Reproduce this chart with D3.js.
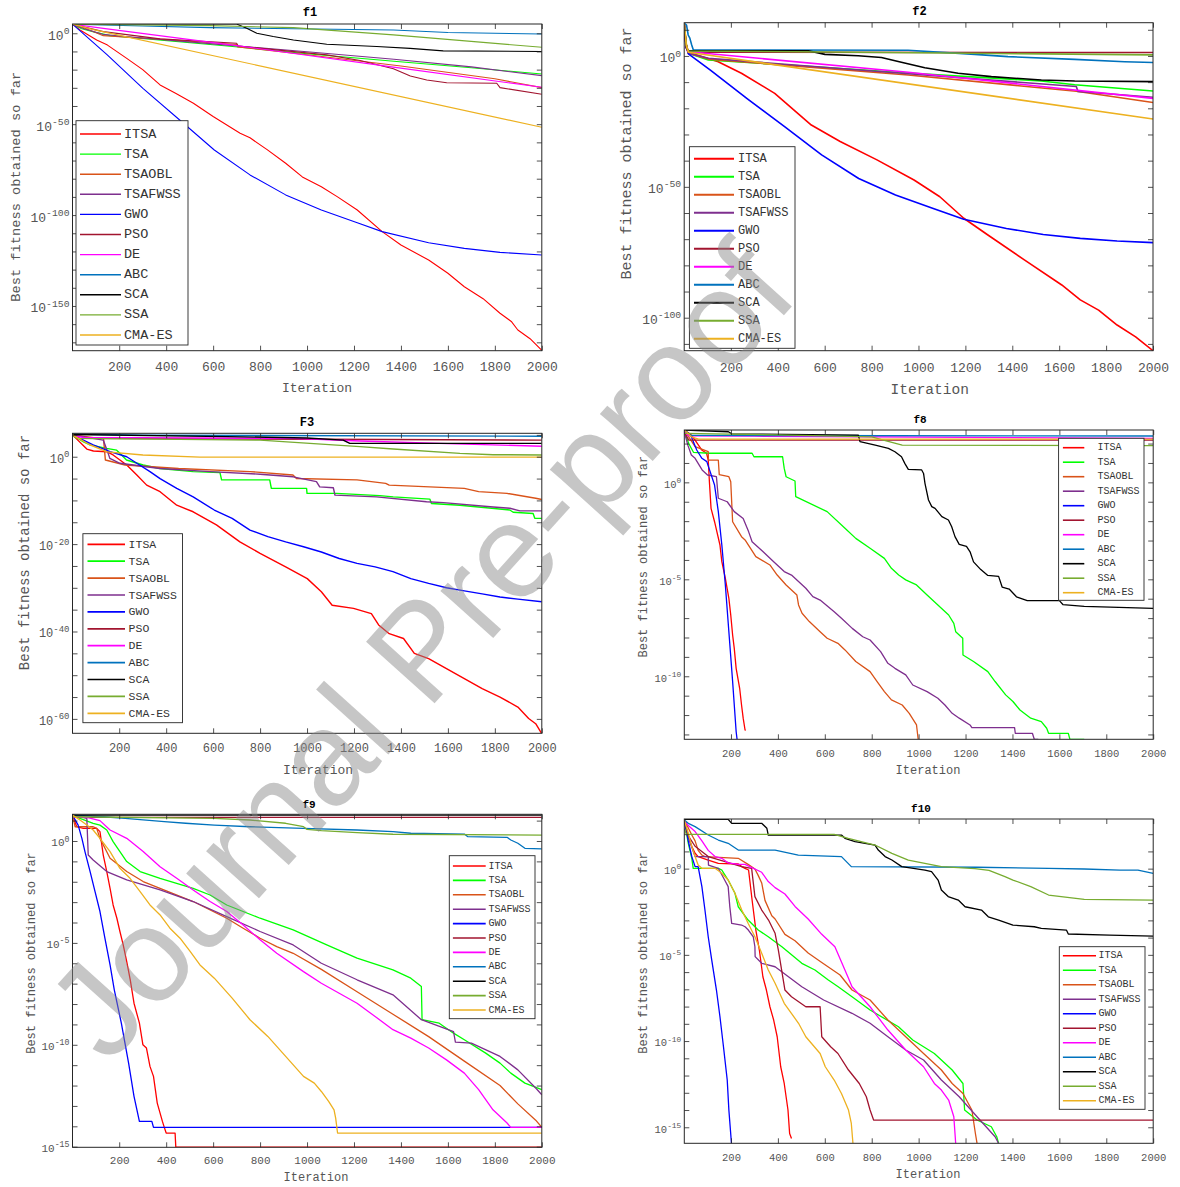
<!DOCTYPE html>
<html><head><meta charset="utf-8">
<script src="https://cdn.jsdelivr.net/npm/d3@7"></script>
<style>
body{margin:0;background:#fff;}
svg{display:block;}
text{font-family:"Liberation Mono","Courier New",monospace;}
</style></head><body>
<svg id="c" width="1180" height="1187"></svg>
<script>
// Series names and colours (legend order, drawing order)
const algorithms = ["ITSA","TSA","TSAOBL","TSAFWSS","GWO","PSO","DE","ABC","SCA","SSA","CMA-ES"];
const seriesColors = ["#ff0000","#00ff00","#d95319","#7e2f8e","#0000ff","#a2142f","#ff00ff","#0072bd","#000000","#77ac30","#edb120"];
const xTickValues = [200,400,600,800,1000,1200,1400,1600,1800,2000];

// Each curve: [iteration, log10(best fitness so far)]
const f1Curves = [
 /*ITSA*/ [[1,5],[33,1.8],[104,-3.7],[150,-6.5],[232,-13.8],[300,-20],[374,-28.4],[440,-33],[516,-38.5],[600,-45.8],[715,-55],[757,-57.5],[830,-64],[909,-71.5],[980,-79],[1061,-84.4],[1130,-90],[1214,-97.2],[1320,-109.1],[1400,-116.5],[1518,-124.7],[1600,-132],[1670,-139.4],[1750,-146],[1822,-154],[1870,-158.5],[1898,-163.2],[1950,-168],[2000,-174.4]],
 /*TSA*/ [[1,5],[40,2.5],[100,0.5],[161,-1.3],[660,-7],[1000,-11.3],[1370,-15.4],[1700,-19],[2000,-22.4]],
 /*TSAOBL*/ [[1,5],[60,2.5],[132,-1.3],[400,-3.5],[700,-6.2],[705,-7.5],[1000,-11.8],[1400,-18],[1800,-25],[2000,-29.9]],
 /*TSAFWSS*/ [[1,5],[50,2.5],[130,-0.5],[200,-1.5],[660,-6.5],[1000,-10.2],[1370,-14.3],[1700,-18.5],[2000,-23.3]],
 /*GWO*/ [[1,5],[149,-11.9],[301,-30.3],[460,-48],[605,-64.2],[757,-77.9],[909,-88.9],[1061,-97.2],[1214,-104.2],[1320,-109.1],[1518,-115.2],[1670,-118.3],[1822,-120.5],[2000,-122]],
 /*PSO*/ [[1,5],[132,0.9],[374,-3.1],[700,-5.5],[707,-7],[1084,-11.9],[1226,-15],[1368,-19.5],[1440,-23.5],[1510,-25.7],[1595,-27.2],[1808,-27.5],[1822,-29.9],[2000,-33.5]],
 /*DE*/ [[1,5],[132,2.7],[700,-6.8],[1368,-18.6],[2000,-29.7]],
 /*ABC*/ [[1,5],[300,4],[586,3.1],[1368,1.8],[1600,0.4],[2000,-0.4]],
 /*SCA*/ [[1,5.1],[700,5.1],[743,2.7],[786,0],[856,-1.8],[942,-3.7],[1084,-6],[1297,-7.3],[1439,-8.3],[1580,-9.7],[2000,-10]],
 /*SSA*/ [[1,5],[586,4.2],[942,3.1],[1368,-0.9],[2000,-7.7]],
 /*CMA-ES*/ [[1,5],[90,2],[2000,-51.7]]
];
const f2Curves = [
 /*ITSA*/ [[1,12.5],[8,5],[19,1.4],[146,-2.2],[245,-6.6],[387,-14.3],[543,-26.4],[666,-32.7],[823,-39.7],[981,-47.4],[1091,-53.8],[1193,-62],[1296,-68.4],[1453,-78],[1611,-87.5],[1690,-93.2],[1768,-97.1],[1847,-102.8],[1926,-107.3],[2000,-112.6]],
 /*TSA*/ [[1,12.5],[8,5],[19,1],[104,-1.5],[956,-6.5],[1524,-9.6],[1666,-11],[2000,-13.4]],
 /*TSAOBL*/ [[1,12.5],[8,5],[19,1],[104,-1.2],[956,-7.3],[1673,-13.5],[2000,-17.8]],
 /*TSAFWSS*/ [[1,12.5],[8,4],[19,1.0],[104,-0.9],[956,-6.8],[1673,-11.7],[1680,-13.6],[2000,-15.8]],
 /*GWO*/ [[1,12.5],[8,4],[19,0.8],[114,-5.5],[272,-16.5],[429,-27],[587,-37.8],[745,-46.8],[902,-53.1],[1060,-58.2],[1193,-62.4],[1375,-65.9],[1532,-68.2],[1690,-69.7],[1847,-70.7],[2000,-71.3]],
 /*PSO*/ [[1,12.5],[10,4],[18,1.4],[2000,1.3]],
 /*DE*/ [[1,12.5],[10,3],[19,1.6],[956,-6.2],[2000,-16.2]],
 /*ABC*/ [[1,12.5],[11,11.8],[18,8],[25,6.8],[33,4.2],[40,2.3],[956,2.2],[1240,0.6],[1382,-0.25],[1666,-1.3],[1879,-2.2],[2000,-2.5]],
 /*SCA*/ [[1,12],[10,3],[18,2],[530,2],[601,0.6],[743,0.1],[842,-0.6],[927,-2.4],[1027,-4.5],[1169,-6.6],[1311,-7.9],[1524,-9.2],[1666,-9.6],[2000,-9.8]],
 /*SSA*/ [[1,12],[12,3],[20,1.9],[1000,1.2],[2000,0.4]],
 /*CMA-ES*/ [[1,12.5],[10,4],[19,1.4],[2000,-24.1]]
];
const f3Curves = [
 /*ITSA*/ [[1,5],[62,1.75],[90,1.3],[147,1.15],[174,0.4],[232,-1.9],[275,-4.2],[317,-6.5],[374,-8],[445,-11.1],[515,-12.6],[614,-15.6],[714,-19.5],[800,-22.1],[909,-25.2],[1001,-27.9],[1061,-30.9],[1107,-34],[1198,-34.7],[1274,-35.9],[1305,-38.5],[1350,-40.5],[1411,-41.6],[1457,-45],[1518,-46.2],[1594,-48.5],[1670,-50.8],[1746,-53.1],[1822,-55],[1898,-57.3],[1944,-59.9],[1974,-61.1],[2000,-63.4]],
 /*TSA*/ [[1,5],[48,3.4],[76,2.7],[146,1.9],[189,1.5],[196,1.15],[231,-0.76],[302,-1.9],[373,-2.7],[515,-3.4],[629,-3.6],[636,-5.3],[841,-5.3],[848,-7.25],[998,-7.25],[1000,-8.4],[1126,-8.4],[1310,-8.9],[1367,-9.2],[1523,-9.7],[1530,-10.7],[1651,-11.1],[1864,-12.2],[1878,-12.7],[1963,-13],[1970,-14.1],[2000,-14.1]],
 /*TSAOBL*/ [[1,5],[100,4.3],[133,4.2],[141,-0.76],[225,-1.9],[453,-2.7],[757,-3.4],[940,-4.2],[955,-5],[1213,-5.3],[1335,-6.1],[1350,-6.5],[1670,-7.25],[1731,-8],[1852,-8.4],[1974,-9.5],[2000,-9.8]],
 /*TSAFWSS*/ [[1,5],[132,3.8],[153,0.76],[160,-0.38],[203,-1.5],[373,-2.7],[586,-3.4],[800,-4],[941,-4.6],[1040,-5.7],[1054,-6.9],[1112,-7.1],[1119,-8.8],[1296,-9.2],[1509,-10.3],[1581,-10.5],[1793,-11.5],[1864,-11.8],[1907,-12.4],[2000,-12.4]],
 /*GWO*/ [[1,5],[89,2.7],[161,1.15],[232,0],[275,-1.5],[331,-3.4],[374,-5],[445,-7.25],[515,-9.2],[605,-12.2],[681,-14.1],[757,-16.8],[833,-18.3],[909,-19.5],[985,-20.6],[1061,-21.8],[1137,-23.3],[1213,-24.4],[1290,-25.2],[1366,-26.3],[1442,-27.9],[1518,-29],[1594,-30],[1670,-30.7],[1746,-31.4],[1822,-32.1],[1898,-32.6],[2000,-33.2]],
 /*PSO*/ [[1,5],[30,4.2],[2000,3.8]],
 /*DE*/ [[1,4.8],[50,4.4],[941,4.2],[1225,3.6],[1600,3],[2000,2.4]],
 /*ABC*/ [[1,5.2],[300,4.9],[2000,4.7]],
 /*SCA*/ [[1,5.1],[657,4.6],[998,4.3],[1154,3.8],[1182,3.05],[2000,3.05]],
 /*SSA*/ [[1,4.8],[20,4.2],[800,3.8],[1012,3.05],[1225,2.3],[1367,1.75],[1651,0.76],[1793,0.46],[2000,0.4]],
 /*CMA-ES*/ [[1,5],[72,2.8],[149,1.1],[301,0.4],[544,-0.1],[2000,-0.1]]
];
const f8Curves = [
 /*ITSA*/ [[1,2.7],[30,2.45],[47,2.18],[75,1.67],[96,1.5],[103,1.15],[108,0.03],[115,-1.34],[130,-2.03],[153,-3.23],[161,-4.09],[176,-4.95],[191,-5.98],[199,-6.84],[207,-7.87],[214,-8.56],[222,-9.59],[237,-10.62],[245,-11.48],[252,-12.16],[260,-12.77],[263,-12.77]],
 /*TSA*/ [[1,2.6],[20,2.0],[40,1.55],[108,1.5],[290,1.5],[298,1.32],[420,1.32],[427,0.72],[435,0.29],[473,0.07],[476,-0.74],[610,-1.51],[686,-2.37],[732,-2.89],[793,-3.4],[854,-3.92],[884,-4.43],[915,-4.78],[945,-5.03],[991,-5.29],[1036,-5.81],[1082,-6.32],[1128,-6.84],[1150,-7.27],[1158,-7.7],[1188,-8.04],[1189,-8.9],[1234,-9.24],[1295,-9.76],[1326,-10.27],[1371,-10.96],[1402,-11.3],[1432,-11.74],[1478,-12.16],[1523,-12.34],[1546,-12.68],[1554,-12.94],[1638,-12.94],[1645,-13.25],[1706,-13.25]],
 /*TSAOBL*/ [[1,2.7],[47,1.84],[103,1.58],[104,1.15],[146,1.15],[150,0.4],[191,0.29],[199,0.03],[207,-2.03],[245,-2.8],[260,-2.97],[306,-3.83],[366,-4.26],[397,-4.78],[435,-5.29],[481,-5.81],[488,-6.32],[503,-6.75],[534,-7.18],[580,-7.7],[610,-8.04],[656,-8.3],[686,-8.64],[732,-9.24],[793,-9.76],[823,-10.27],[854,-10.79],[884,-11.22],[930,-11.48],[960,-11.91],[991,-12.51],[998,-13.25]],
 /*TSAFWSS*/ [[1,2.61],[16,1.92],[31,1.41],[47,1.24],[77,0.64],[100,0.38],[138,0.29],[146,-0.82],[184,-1.0],[214,-1.51],[252,-1.86],[275,-2.54],[290,-3.06],[336,-3.57],[382,-4.09],[427,-4.6],[458,-4.78],[519,-5.46],[549,-5.89],[580,-6.07],[640,-6.67],[671,-7.01],[717,-7.53],[762,-7.96],[793,-8.13],[838,-8.73],[869,-9.33],[899,-9.59],[945,-9.93],[975,-10.45],[1036,-10.79],[1082,-11.13],[1112,-11.48],[1143,-11.91],[1173,-12.16],[1219,-12.51],[1227,-12.65],[1409,-12.65],[1412,-12.94],[1485,-12.94],[1493,-13.25],[1510,-13.25]],
 /*GWO*/ [[1,2.7],[31,2.35],[54,1.67],[76,1.24],[97,1.07],[130,-0.14],[146,-1.51],[161,-3.23],[176,-5.29],[191,-7.7],[207,-10.27],[222,-12.85],[226,-13.25]],
 /*PSO*/ [[1,2.6],[20,2.18],[2000,2.18]],
 /*DE*/ [[1,2.6],[20,2.4],[300,2.38],[2000,2.27]],
 /*ABC*/ [[1,2.7],[30,2.42],[2000,2.39]],
 /*SCA*/ [[1,2.7],[189,2.61],[203,2.5],[743,2.44],[750,2.1],[815,1.92],[871,1.75],[899,1.58],[927,1.32],[941,0.98],[956,0.67],[1013,0.64],[1021,0.46],[1027,-0.05],[1042,-0.91],[1056,-1.25],[1070,-1.34],[1099,-1.77],[1127,-1.94],[1141,-2.29],[1155,-2.8],[1173,-3.2],[1204,-3.3],[1220,-3.6],[1234,-4.1],[1265,-4.5],[1295,-4.8],[1341,-4.85],[1356,-5.4],[1386,-5.5],[1417,-5.9],[1463,-6.1],[1600,-6.1],[1615,-6.3],[1706,-6.4],[2000,-6.5]],
 /*SSA*/ [[1,2.53],[400,2.45],[800,2.35],[850,2.18],[930,1.92],[2000,1.89]],
 /*CMA-ES*/ [[1,2.7],[31,2.35],[62,2.23],[2000,2.23]]
];
const f9Curves = [
 /*ITSA*/ [[1,1.27],[19,0.7],[47,0.62],[104,0.62],[118,0.46],[132,-0.69],[147,-1.5],[161,-2.32],[174,-3.14],[190,-3.79],[203,-4.44],[217,-5.1],[232,-5.92],[247,-6.81],[263,-7.96],[286,-8.94],[301,-10],[316,-10.16],[331,-11.06],[346,-11.55],[362,-12.86],[384,-13.76],[392,-14.05],[400,-14.33],[438,-14.33],[441,-15.02],[2000,-15.02]],
 /*TSA*/ [[1,1.27],[33,1.11],[89,0.87],[118,0.78],[147,0.54],[174,-0.03],[203,-0.52],[232,-1.01],[289,-1.5],[374,-1.83],[515,-2.32],[587,-2.65],[658,-3.14],[800,-3.79],[941,-4.36],[1084,-5.1],[1213,-5.75],[1366,-6.32],[1442,-6.73],[1487,-7.14],[1490,-8.77],[1563,-8.94],[1624,-9.43],[1670,-9.75],[1761,-10.41],[1822,-10.9],[1868,-11.39],[1928,-11.88],[2000,-12.2]],
 /*TSAOBL*/ [[1,1.27],[12,0.7],[89,0.7],[104,0.62],[118,0.13],[161,-0.85],[232,-1.5],[302,-1.99],[374,-2.32],[515,-2.97],[658,-3.79],[728,-4.28],[800,-4.77],[871,-5.18],[941,-5.51],[1061,-6.3],[1213,-7.4],[1366,-8.5],[1518,-9.6],[1670,-10.8],[1822,-12],[1898,-12.9],[1974,-13.7],[2000,-14.05]],
 /*TSAFWSS*/ [[1,1.27],[62,1.11],[68,-0.69],[89,-0.93],[147,-1.5],[232,-1.91],[374,-2.4],[515,-2.97],[658,-3.71],[800,-4.44],[941,-5.1],[1061,-6],[1213,-6.81],[1366,-7.55],[1487,-8.77],[1624,-9.35],[1632,-9.87],[1700,-9.92],[1822,-10.57],[1898,-11.23],[1974,-12.12],[2000,-12.45]],
 /*GWO*/ [[1,1.27],[25,0.78],[41,0.13],[54,-0.52],[76,-1.5],[97,-2.48],[118,-3.46],[139,-4.77],[161,-6.08],[179,-7.3],[209,-8.94],[240,-10.9],[263,-12.53],[286,-13.76],[339,-13.76],[346,-14.05],[2000,-14.05]],
 /*PSO*/ [[1,1.16],[2000,1.16]],
 /*DE*/ [[1,1.19],[62,1.16],[118,1.0],[161,0.54],[232,0.13],[302,-0.52],[374,-1.26],[445,-1.83],[515,-2.4],[587,-2.97],[658,-3.46],[728,-4.12],[800,-4.85],[871,-5.51],[985,-6.41],[1061,-6.98],[1137,-7.47],[1213,-7.96],[1290,-8.61],[1366,-9.26],[1442,-9.67],[1518,-10.16],[1594,-10.74],[1670,-11.39],[1731,-12.2],[1792,-13.19],[1852,-13.84],[1868,-14.05],[2000,-14.05]],
 /*ABC*/ [[1,1.27],[133,1.19],[225,1.11],[392,0.95],[483,0.87],[605,0.78],[757,0.7],[985,0.62],[1213,0.54],[1366,0.46],[1442,0.38],[1670,0.34],[1685,0.21],[1852,0.18],[1868,0.05],[1898,-0.11],[1928,-0.36],[2000,-0.39]],
 /*SCA*/ [[1,1.27],[2000,1.27]],
 /*SSA*/ [[1,1.19],[605,1.11],[757,1.03],[909,0.87],[985,0.7],[1000,0.57],[1061,0.51],[1213,0.41],[1366,0.33],[2000,0.29]],
 /*CMA-ES*/ [[1,1.27],[33,1.03],[62,0.78],[89,0.54],[118,0.13],[161,-0.52],[203,-1.34],[246,-1.83],[289,-2.48],[331,-3.14],[374,-3.63],[416,-4.28],[459,-4.77],[502,-5.42],[544,-6.08],[605,-6.73],[681,-7.71],[757,-8.77],[833,-9.59],[909,-10.57],[985,-11.55],[1031,-11.88],[1061,-12.29],[1092,-12.78],[1115,-13.19],[1122,-13.6],[1130,-14.33],[2000,-14.33]]
];
const f10Curves = [
 /*ITSA*/ [[1,2.82],[18,1.86],[33,1.28],[47,0.89],[60,0.7],[103,0.5],[146,0.31],[231,0.27],[246,0.12],[260,0.02],[275,-0.08],[290,-1.82],[306,-3.56],[321,-4.72],[336,-6.27],[351,-7.04],[366,-8.01],[382,-8.78],[397,-9.75],[412,-11.49],[427,-12.46],[443,-14],[450,-15.36],[458,-15.65]],
 /*TSA*/ [[1,2.82],[18,1.47],[33,0.6],[39,0.02],[146,0.02],[161,-0.08],[188,-0.66],[217,-1.43],[231,-2.21],[273,-2.98],[316,-3.56],[359,-3.95],[417,-4.53],[502,-5.49],[558,-5.88],[615,-6.46],[657,-6.85],[716,-7.43],[793,-8.2],[914,-9.17],[975,-9.94],[1067,-10.72],[1143,-11.68],[1189,-12.46],[1196,-14],[1249,-14.58],[1310,-14.97],[1333,-15.55],[1341,-15.94]],
 /*TSAOBL*/ [[1,2.82],[33,1.95],[47,1.61],[60,1.06],[76,0.79],[89,0.7],[231,0.6],[273,0.25],[302,-0.02],[316,-0.39],[331,-0.83],[345,-1.84],[374,-2.73],[388,-2.92],[430,-3.81],[473,-4.18],[529,-4.89],[587,-5.44],[665,-6.17],[716,-7.04],[793,-7.62],[869,-8.78],[945,-9.75],[1021,-10.72],[1097,-11.68],[1143,-12.46],[1189,-13.04],[1227,-14],[1242,-15.36],[1249,-15.94]],
 /*TSAFWSS*/ [[1,2.82],[18,1.86],[32,1.28],[47,0.7],[103,0.7],[104,0.21],[146,0.02],[173,-0.66],[188,-1.04],[195,-2.2],[203,-3.17],[245,-3.27],[260,-3.37],[274,-3.56],[295,-3.95],[302,-4.53],[303,-5.1],[331,-5.49],[388,-5.69],[445,-6.27],[502,-6.85],[595,-7.62],[716,-8.39],[793,-8.97],[869,-9.75],[945,-10.52],[1021,-11.1],[1097,-12.26],[1173,-13.23],[1249,-14.39],[1326,-15.55],[1341,-15.94]],
 /*GWO*/ [[1,2.82],[18,1.61],[33,0.7],[47,0.12],[60,0.12],[76,-1.04],[89,-2.4],[103,-3.95],[118,-5.3],[138,-7.04],[153,-8.59],[168,-10.33],[184,-12.26],[191,-14],[202,-15.93]],
 /*PSO*/ [[1,2.82],[18,1.9],[47,1.3],[103,0.7],[200,0.3],[245,0.12],[288,0.02],[302,-1.62],[331,-2.4],[360,-2.98],[388,-3.75],[402,-4.72],[416,-5.88],[430,-7.04],[458,-7.43],[519,-8.01],[580,-8.01],[587,-9.75],[625,-10.33],[656,-10.72],[701,-11.68],[747,-12.46],[777,-13.23],[793,-14],[808,-14.58],[2000,-14.58]],
 /*DE*/ [[1,2.82],[18,2.5],[47,2.15],[76,1.61],[103,1.06],[132,0.7],[161,0.6],[188,0.33],[231,0.25],[260,0.25],[289,0.06],[331,-0.21],[359,-0.75],[388,-1.1],[430,-1.47],[473,-2.19],[529,-2.92],[587,-3.81],[643,-4.53],[700,-6.33],[716,-6.85],[793,-8.01],[869,-9.36],[945,-10.52],[1021,-11.49],[1067,-12.46],[1097,-12.84],[1128,-13.42],[1150,-14.39],[1158,-15.94]],
 /*ABC*/ [[1,2.82],[18,2.63],[47,2.44],[103,1.95],[146,1.66],[188,1.47],[231,1.08],[388,1.08],[487,0.79],[671,0.7],[713,0.12],[1249,0.08],[1554,0.02],[1706,-0.02],[1858,-0.08],[1935,-0.08],[1965,-0.17],[2000,-0.27]],
 /*SCA*/ [[1,2.86],[188,2.86],[203,2.63],[331,2.63],[353,2.34],[359,1.95],[671,1.95],[686,1.76],[729,1.57],[814,1.37],[828,1.08],[857,0.7],[886,0.5],[928,0.12],[1027,-0.08],[1055,-0.17],[1083,-0.66],[1097,-1.24],[1126,-1.62],[1169,-1.82],[1198,-2.21],[1268,-2.4],[1297,-2.79],[1341,-2.98],[1402,-3.27],[1493,-3.37],[1523,-3.46],[1630,-3.56],[1638,-3.79],[1813,-3.85],[2000,-3.91]],
 /*SSA*/ [[1,2.3],[10,1.99],[640,1.99],[700,1.76],[814,1.37],[886,0.89],[956,0.5],[1097,0.12],[1240,0],[1300,-0.1],[1368,-0.46],[1402,-0.66],[1478,-1.04],[1554,-1.53],[1706,-1.78],[2000,-1.82]],
 /*CMA-ES*/ [[1,2.82],[18,2.05],[33,1.28],[47,0.7],[60,0.21],[76,0.02],[132,0.02],[161,-0.27],[188,-0.66],[217,-1.43],[246,-2.4],[273,-3.17],[302,-3.95],[331,-4.91],[359,-5.88],[388,-6.65],[427,-7.81],[488,-8.97],[519,-9.75],[580,-10.72],[602,-11.49],[640,-12.26],[671,-13.04],[701,-14],[713,-14.78],[720,-15.94]]
];

// Layout (positions / sizes only)
const panels = [
 {title:"f1", curves:f1Curves, L:72.5,R:541.8,T:24,B:350.7, eTop:5.1,eBot:-174.6, tickStep:10,labelStep:50,
  tickFs:13, xPad:11, lw:1.1, tl:5, titlePos:[310,13.3], titleFs:12, xlabPos:[317,388], xlabFs:13, ylabPos:[16,186.7], ylabFs:13.7,
  leg:{x0:76,y0:120.7,x1:188,y1:345, first:134, step:20.1, lx0:80, lx1:121, tx:124, fs:13.5}},
 {title:"f2", curves:f2Curves, L:684.2,R:1153,T:22.7,B:350.7, eTop:12.7,eBot:-112.6, tickStep:10,labelStep:50,
  tickFs:13, xPad:12, lw:1.6, tl:5, titlePos:[919.5,11.7], titleFs:12, xlabPos:[929.7,389.5], xlabFs:14.5, ylabPos:[627.7,153.5], ylabFs:15,
  leg:{x0:689.4,y0:146.7,x1:795,y1:348.3, first:158.7, step:18, lx0:694, lx1:734, tx:738, fs:12}},
 {title:"F3", curves:f3Curves, L:72.5,R:541.8,T:433.3,B:733.3, eTop:5.36,eBot:-63.3, tickStep:5,labelStep:20,
  tickFs:12, xPad:10.5, lw:1.4, tl:5, titlePos:[307,423.3], titleFs:12, xlabPos:[318,770], xlabFs:13, ylabPos:[25,552.5], ylabFs:14,
  leg:{x0:82.9,y0:533.7,x1:182.5,y1:722.7, first:544.3, step:16.9, lx0:87.5, lx1:125, tx:128.6, fs:11.5}},
 {title:"f8", curves:f8Curves, L:684.3,R:1153.2,T:430,B:739.3, eTop:2.7,eBot:-13.25, tickStep:1,labelStep:5,
  tickFs:10.5, xPad:10, lw:1.3, tl:5, titlePos:[920,420], titleFs:11, xlabPos:[928,770.7], xlabFs:12, ylabPos:[644.3,556.7], ylabFs:12,
  leg:{x0:1058.6,y0:438.3,x1:1144,y1:600.3, first:447.7, step:14.5, lx0:1062.9, lx1:1084.3, tx:1097.5, fs:10}},
 {title:"f9", curves:f9Curves, L:72.5,R:541.8,T:814.3,B:1147.3, eTop:1.31,eBot:-15.03, tickStep:1,labelStep:5,
  tickFs:11, xPad:8.5, lw:1.3, tl:5, titlePos:[309,805], titleFs:11, xlabPos:[316,1178], xlabFs:12, ylabPos:[32,953], ylabFs:12,
  leg:{x0:449.3,y0:855.7,x1:535,y1:1018.7, first:866, step:14.4, lx0:452.9, lx1:485.7, tx:488.6, fs:10}},
 {title:"f10", curves:f10Curves, L:684.3,R:1153.2,T:819,B:1143.3, eTop:2.88,eBot:-15.93, tickStep:1,labelStep:5,
  tickFs:10.5, xPad:10.4, lw:1.3, tl:5, titlePos:[921,809.3], titleFs:11, xlabPos:[928,1175], xlabFs:12, ylabPos:[644.3,953], ylabFs:12,
  leg:{x0:1059.3,y0:946.7,x1:1145,y1:1109.3, first:955.7, step:14.5, lx0:1062.9, lx1:1096, tx:1098.6, fs:10}}
];

const svg = d3.select("#c");
svg.append("rect").attr("width",1180).attr("height",1187).attr("fill","#fff");
const AX = "#262626", TXT = "#555";

panels.forEach((p,pi)=>{
  const x = d3.scaleLinear().domain([1,2000]).range([p.L,p.R]);
  const y = d3.scaleLog().domain([Math.pow(10,p.eBot), Math.pow(10,p.eTop)]).range([p.B,p.T]);
  const g = svg.append("g");
  const clipId = "clip"+pi;
  svg.append("clipPath").attr("id",clipId).append("rect")
    .attr("x",p.L).attr("y",p.T).attr("width",p.R-p.L).attr("height",p.B-p.T);

  // curves
  const line = d3.line().x(d=>x(d[0])).y(d=>y(Math.pow(10,d[1])));
  p.curves.forEach((c,i)=>{
    g.append("path").attr("clip-path",`url(#${clipId})`).attr("d",line(c))
      .attr("fill","none").attr("stroke",seriesColors[i]).attr("stroke-width",p.lw)
      .attr("stroke-linejoin","round");
  });

  // ticks (inside, on all four sides)
  const exps = [];
  for(let e=Math.ceil(p.eBot/p.tickStep)*p.tickStep; e<=p.eTop; e+=p.tickStep) exps.push(e);
  const yVals = exps.map(e=>Math.pow(10,e));
  const axL = d3.axisLeft(y).tickValues(yVals).tickSizeInner(-p.tl).tickSizeOuter(0).tickFormat(()=>"");
  const axR = d3.axisRight(y).tickValues(yVals).tickSizeInner(-p.tl).tickSizeOuter(0).tickFormat(()=>"");
  const axB = d3.axisBottom(x).tickValues(xTickValues).tickSizeInner(-p.tl).tickSizeOuter(0)
    .tickPadding(p.xPad).tickFormat(d3.format("d"));
  const axT = d3.axisTop(x).tickValues(xTickValues).tickSizeInner(-p.tl).tickSizeOuter(0).tickFormat(()=>"");
  const gl = g.append("g").attr("transform",`translate(${p.L},0)`).call(axL);
  const gr = g.append("g").attr("transform",`translate(${p.R},0)`).call(axR);
  const gb = g.append("g").attr("transform",`translate(0,${p.B})`).call(axB);
  const gt = g.append("g").attr("transform",`translate(0,${p.T})`).call(axT);
  [gl,gr,gb,gt].forEach(a=>{
    a.selectAll(".domain").remove();
    a.selectAll(".tick line").attr("stroke",AX).attr("stroke-width",0.8);
  });
  gb.selectAll(".tick text").attr("fill",TXT).style("font-family","'Liberation Mono',monospace").style("font-size",p.tickFs+"px");

  // box
  g.append("rect").attr("x",p.L).attr("y",p.T).attr("width",p.R-p.L).attr("height",p.B-p.T)
    .attr("fill","none").attr("stroke",AX).attr("stroke-width",1);

  // y tick labels 10^k
  exps.filter(e=>Math.abs(e % p.labelStep) < 1e-9).forEach(e=>{
    const yy = y(Math.pow(10,e));
    const t = g.append("text").attr("x",p.L-3).attr("y",yy+0.5*p.tickFs)
      .attr("text-anchor","end").attr("fill",TXT).style("font-size",p.tickFs+"px");
    t.append("tspan").text("10");
    t.append("tspan").attr("dy",-0.45*p.tickFs).style("font-size",(0.75*p.tickFs)+"px").text(e===0?"0":String(e));
  });

  // title and axis labels
  g.append("text").attr("x",p.titlePos[0]).attr("y",p.titlePos[1]).attr("text-anchor","middle")
    .attr("dominant-baseline","central").style("font-weight","bold").style("font-size",p.titleFs+"px")
    .attr("fill","#000").text(p.title);
  g.append("text").attr("x",p.xlabPos[0]).attr("y",p.xlabPos[1]).attr("text-anchor","middle")
    .attr("dominant-baseline","central").style("font-size",p.xlabFs+"px").attr("fill",TXT).text("Iteration");
  g.append("text").attr("transform",`translate(${p.ylabPos[0]},${p.ylabPos[1]}) rotate(-90)`)
    .attr("text-anchor","middle").attr("dominant-baseline","central").style("font-size",p.ylabFs+"px")
    .attr("fill",TXT).text("Best fitness obtained so far");

  // legend
  const lg = p.leg;
  const leg = g.append("g");
  leg.append("rect").attr("x",lg.x0).attr("y",lg.y0).attr("width",lg.x1-lg.x0).attr("height",lg.y1-lg.y0)
    .attr("fill","#fff").attr("stroke",AX).attr("stroke-width",0.9);
  algorithms.forEach((name,i)=>{
    const yy = lg.first + i*lg.step;
    leg.append("line").attr("x1",lg.lx0).attr("x2",lg.lx1).attr("y1",yy).attr("y2",yy)
      .attr("stroke",seriesColors[i]).attr("stroke-width",p.lw+0.3);
    leg.append("text").attr("x",lg.tx).attr("y",yy).attr("dominant-baseline","central")
      .style("font-size",lg.fs+"px").attr("fill","#333").text(name);
  });
});

// watermark
svg.append("text").text("Journal Pre-proof")
  .attr("transform","translate(420,650) rotate(-48)")
  .attr("text-anchor","middle").attr("dominant-baseline","central")
  .style("font-family","'Liberation Sans',Arial,sans-serif").style("font-size","134px")
  .attr("fill","#888").attr("fill-opacity",0.48);
</script>
</body></html>
